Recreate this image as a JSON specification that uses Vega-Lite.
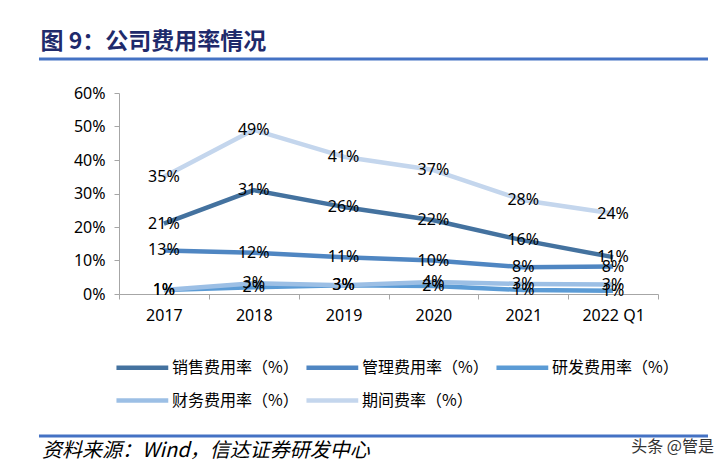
{
  "$schema": "https://vega.github.io/schema/vega-lite/v6.json",
  "background": "white",
  "autosize": {"type": "pad"},
  "padding": {"left": 37, "top": 30, "right": 0, "bottom": 0},
  "columns": 1,
  "spacing": 24,
  "resolve": {"scale": {"color": "independent"}, "legend": {"color": "independent"}},
  "config": {"view": {"stroke": null}, "font": "Noto Sans"},
  "concat": [
    {
      "width": 589,
      "height": 1,
      "data": {"values": [{}]},
      "title": {"text": "图 9：公司费用率情况", "anchor": "start", "frame": "bounds", "font": "Noto Sans CJK SC", "fontSize": 23, "fontWeight": "bold", "color": "#1f2a6b", "offset": 4, "dx": 3},
      "mark": {"type": "rule", "color": "#4472c4", "strokeWidth": 3},
      "encoding": {
        "x": {"datum": 0, "type": "quantitative", "scale": {"domain": [0.1196, 1]}, "axis": null},
        "x2": {"datum": 1},
        "y": {"datum": 0, "type": "quantitative", "scale": {"domain": [0, 1]}, "axis": null}
      }
    },
    {
      "width": 539,
      "height": 201,
      "data": {"values": [
        {"year": "2017", "series": "销售费用率（%）", "value": 0.21},
        {"year": "2018", "series": "销售费用率（%）", "value": 0.31},
        {"year": "2019", "series": "销售费用率（%）", "value": 0.26},
        {"year": "2020", "series": "销售费用率（%）", "value": 0.22},
        {"year": "2021", "series": "销售费用率（%）", "value": 0.16},
        {"year": "2022 Q1", "series": "销售费用率（%）", "value": 0.11},
        {"year": "2017", "series": "管理费用率（%）", "value": 0.13},
        {"year": "2018", "series": "管理费用率（%）", "value": 0.123},
        {"year": "2019", "series": "管理费用率（%）", "value": 0.11},
        {"year": "2020", "series": "管理费用率（%）", "value": 0.10},
        {"year": "2021", "series": "管理费用率（%）", "value": 0.08},
        {"year": "2022 Q1", "series": "管理费用率（%）", "value": 0.082},
        {"year": "2017", "series": "研发费用率（%）", "value": 0.012},
        {"year": "2018", "series": "研发费用率（%）", "value": 0.02},
        {"year": "2019", "series": "研发费用率（%）", "value": 0.026},
        {"year": "2020", "series": "研发费用率（%）", "value": 0.024},
        {"year": "2021", "series": "研发费用率（%）", "value": 0.012},
        {"year": "2022 Q1", "series": "研发费用率（%）", "value": 0.01},
        {"year": "2017", "series": "财务费用率（%）", "value": 0.012},
        {"year": "2018", "series": "财务费用率（%）", "value": 0.032},
        {"year": "2019", "series": "财务费用率（%）", "value": 0.026},
        {"year": "2020", "series": "财务费用率（%）", "value": 0.036},
        {"year": "2021", "series": "财务费用率（%）", "value": 0.03},
        {"year": "2022 Q1", "series": "财务费用率（%）", "value": 0.028},
        {"year": "2017", "series": "期间费率（%）", "value": 0.35},
        {"year": "2018", "series": "期间费率（%）", "value": 0.49},
        {"year": "2019", "series": "期间费率（%）", "value": 0.41},
        {"year": "2020", "series": "期间费率（%）", "value": 0.37},
        {"year": "2021", "series": "期间费率（%）", "value": 0.28},
        {"year": "2022 Q1", "series": "期间费率（%）", "value": 0.24}
      ]},
      "encoding": {
        "x": {
          "field": "year", "type": "nominal",
          "sort": ["2017", "2018", "2019", "2020", "2021", "2022 Q1"],
          "scale": {"type": "band", "paddingInner": 0, "paddingOuter": 0},
          "axis": {"title": null, "labelAngle": 0, "labelFontSize": 16, "labelFont": "Noto Sans", "labelColor": "#000000", "tickBand": "extent", "domainColor": "#a6a6a6", "tickColor": "#a6a6a6", "tickSize": 5, "labelPadding": 8}
        },
        "y": {
          "field": "value", "type": "quantitative",
          "scale": {"domain": [0, 0.6], "nice": false},
          "axis": {"title": null, "values": [0, 0.1, 0.2, 0.3, 0.4, 0.5, 0.6], "format": ".0%", "grid": false, "domainColor": "#a6a6a6", "tickColor": "#a6a6a6", "tickSize": 5, "labelPadding": 9, "labelFontSize": 16, "labelFont": "Noto Sans", "labelColor": "#000000", "minExtent": 80, "maxExtent": 80}
        }
      },
      "layer": [
        {
          "mark": {"type": "line", "strokeWidth": 4.5, "strokeJoin": "round"},
          "encoding": {
            "color": {
              "field": "series", "type": "nominal",
              "scale": {
                "domain": ["销售费用率（%）", "管理费用率（%）", "研发费用率（%）", "财务费用率（%）", "期间费率（%）"],
                "range": ["#44729f", "#4f86c2", "#5b9bd5", "#9cbfe5", "#c4d6ed"]
              },
              "legend": {
                "title": null, "orient": "bottom", "direction": "horizontal", "offset": 28,
                "columns": 3, "columnPadding": -2, "rowPadding": 7,
                "symbolType": "M-1.36,0H2.34", "symbolSize": 784, "symbolStrokeWidth": 4.5,
                "labelOffset": 20, "labelFont": "Noto Sans CJK SC", "labelFontSize": 16, "labelColor": "#000000",
                "labelLimit": 300
              }
            }
          }
        },
        {
          "mark": {"type": "text", "fontSize": 16, "font": "Noto Sans", "color": "#000000"},
          "encoding": {"text": {"field": "value", "type": "quantitative", "format": ".0%"}}
        }
      ]
    },
    {
      "width": 589,
      "height": 28,
      "data": {"values": [{"source": "资料来源：Wind，信达证券研发中心", "watermark": "头条 @管是"}]},
      "encoding": {
        "x": {"datum": 0, "type": "quantitative", "scale": {"domain": [0.1196, 1]}, "axis": null},
        "y": {"datum": 1, "type": "quantitative", "scale": {"domain": [0, 1]}, "axis": null}
      },
      "layer": [
        {
          "mark": {"type": "rule", "color": "#4472c4", "strokeWidth": 3},
          "encoding": {"x2": {"datum": 1}}
        },
        {
          "mark": {"type": "text", "align": "left", "baseline": "middle", "font": "Noto Sans CJK SC", "fontStyle": "italic", "fontSize": 20, "color": "#000000", "dx": 3},
          "encoding": {
            "y": {"datum": 0.46, "type": "quantitative"},
            "text": {"field": "source"}
          }
        },
        {
          "mark": {"type": "text", "align": "right", "baseline": "middle", "font": "Noto Sans CJK SC", "fontSize": 16, "color": "#333333", "dx": 6},
          "encoding": {
            "x": {"datum": 1, "type": "quantitative"},
            "y": {"datum": 0.61, "type": "quantitative"},
            "text": {"field": "watermark"}
          }
        }
      ]
    }
  ]
}
